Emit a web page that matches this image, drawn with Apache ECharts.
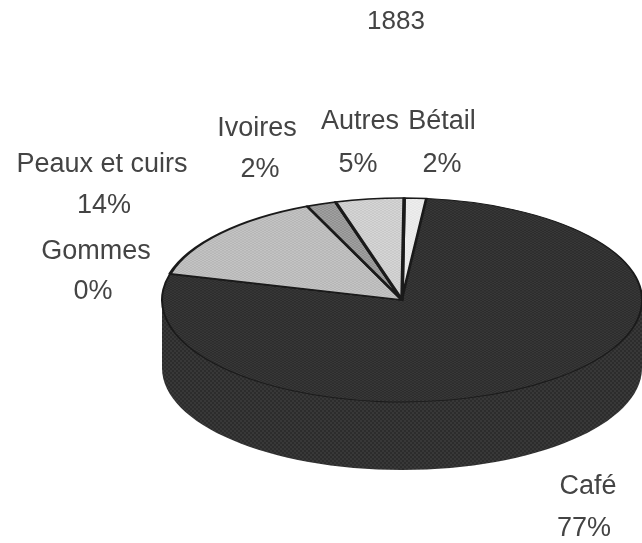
<!DOCTYPE html>
<html>
<head>
<meta charset="utf-8">
<title>1883</title>
<style>
  html, body { margin: 0; padding: 0; background: #fff; }
  #chart { width: 642px; height: 543px; }
</style>
</head>
<body>
<div id="chart"></div>
<script src="https://cdn.jsdelivr.net/npm/echarts@6/dist/echarts.min.js"></script>
<script>
// clockwise from 12 o'clock
var categories = ['Bétail', 'Café', 'Gommes', 'Peaux et cuirs', 'Ivoires', 'Autres'];
var values = [1.5, 77.4, 0.1, 14.4, 2.0, 4.6];
var titleText = '1883';

// halftone pairs of the scan, same order as categories
var sliceColors = [
  ['#e6e6e6', '#eeeeee'],
  ['#2c2c2c', '#383838'],
  ['#2c2c2c', '#383838'],
  ['#b6b6b6', '#c4c4c4'],
  ['#8f8f8f', '#a2a2a2'],
  ['#c8c8c8', '#d6d6d6']
];

// label centres: [name x, name y, percent x, percent y]
var labelPos = {
  'Bétail': [442, 122, 442, 165],
  'Café': [588, 487, 584, 529],
  'Gommes': [96, 252, 93, 292],
  'Peaux et cuirs': [102, 165, 104, 206],
  'Ivoires': [257, 129, 260, 170],
  'Autres': [360, 122, 358, 165]
};

var cx = 402, cy = 300, rx = 240, ry = 102, depth = 68;
var startDeg = -89.5;
var fontSize = 27;
var titleSize = 26;
var textColor = '#444444';

function halftone(pair) {
  var c = document.createElement('canvas');
  c.width = 4; c.height = 4;
  var g = c.getContext('2d');
  g.fillStyle = pair[0];
  g.fillRect(0, 0, 4, 4);
  g.fillStyle = pair[1];
  g.fillRect(0, 0, 2, 2);
  g.fillRect(2, 2, 2, 2);
  return { image: c, repeat: 'repeat' };
}

var total = values.reduce(function (a, b) { return a + b; }, 0);

function angleAt(idx) {
  var sum = 0;
  for (var i = 0; i < idx; i++) sum += values[i];
  return (startDeg + sum / total * 360) * Math.PI / 180;
}

var wallFill = halftone(sliceColors[1]);
var fills = sliceColors.map(halftone);

// labels are placed by hand like in the original figure
var texts = [{
  type: 'text', x: 396, y: 22,
  style: { text: titleText, font: titleSize + 'px "Liberation Sans"', fill: textColor, textAlign: 'center', textVerticalAlign: 'middle' }
}];
categories.forEach(function (name, i) {
  var p = labelPos[name];
  [[name, p[0], p[1]], [Math.round(values[i]) + '%', p[2], p[3]]].forEach(function (t) {
    texts.push({
      type: 'text', x: t[1], y: t[2],
      style: { text: t[0], font: fontSize + 'px "Liberation Sans"', fill: textColor, textAlign: 'center', textVerticalAlign: 'middle' }
    });
  });
});

var option = {
  animation: false,
  backgroundColor: '#ffffff',
  graphic: { elements: texts },
  series: [
    {
      // side wall below the top face
      type: 'custom',
      coordinateSystem: 'none',
      silent: true,
      z: 1,
      data: [0],
      renderItem: function () {
        return {
          type: 'group',
          children: [
            {
              type: 'ellipse',
              shape: { cx: cx, cy: cy + depth, rx: rx, ry: ry },
              style: { fill: wallFill }
            },
            {
              type: 'rect',
              shape: { x: cx - rx, y: cy, width: rx * 2, height: depth },
              style: { fill: wallFill }
            }
          ]
        };
      }
    },
    {
      type: 'custom',
      coordinateSystem: 'none',
      silent: true,
      z: 2,
      data: values,
      renderItem: function (params) {
        var i = params.dataIndex;
        var dark = categories[i] === 'Café' || categories[i] === 'Gommes';
        return {
          type: 'sector',
          x: cx,
          y: cy,
          scaleY: ry / rx,
          shape: { cx: 0, cy: 0, r0: 0, r: rx, startAngle: angleAt(i), endAngle: angleAt(i + 1), clockwise: true },
          style: { fill: fills[i], stroke: '#1a1a1a', lineWidth: dark ? 2 : 3.5, lineJoin: 'round' }
        };
      }
    }
  ]
};

var myChart = echarts.init(document.getElementById('chart'));
myChart.setOption(option);
</script>
</body>
</html>
